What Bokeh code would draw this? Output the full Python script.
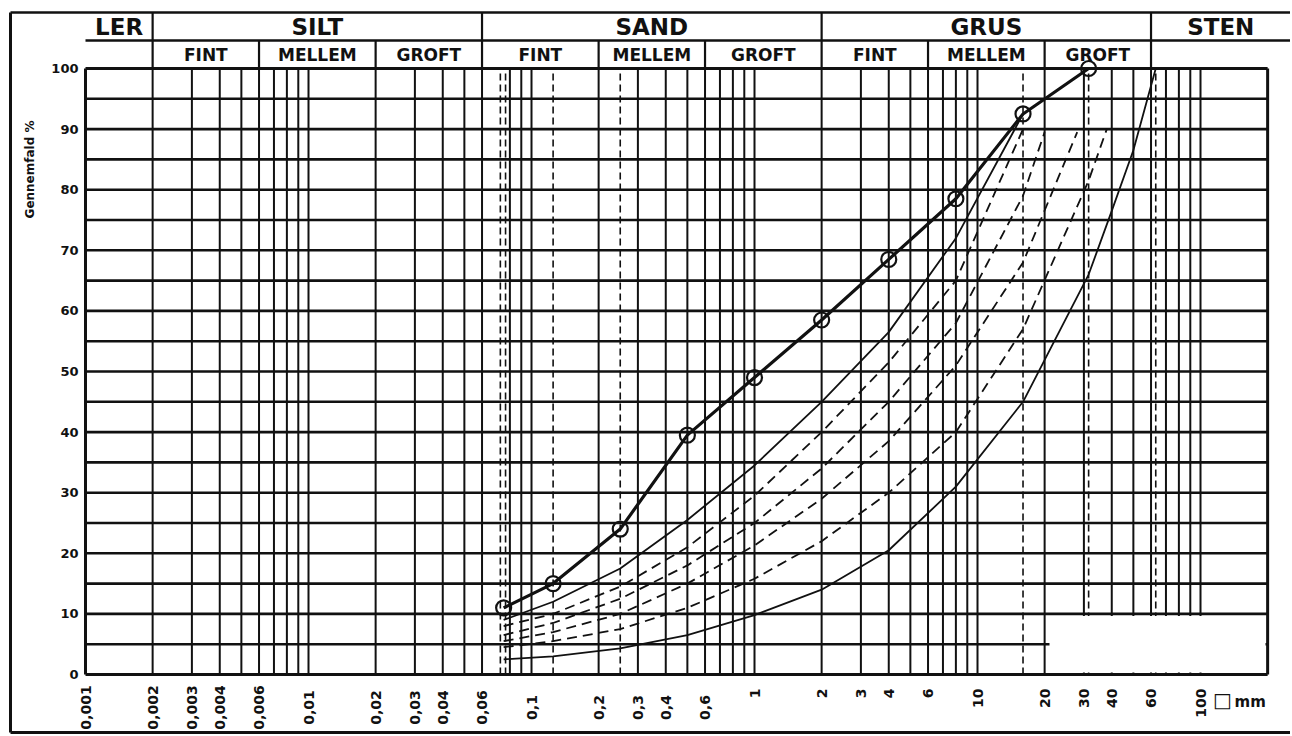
import math
from bokeh.plotting import figure
from bokeh.models import Range1d
from bokeh.embed import file_html
from bokeh.resources import INLINE
from bokeh.core.properties import value

# ---------------- data ----------------
# measured sample (thick curve with circles)
sample_mm = [0.075, 0.125, 0.25, 0.5, 1, 2, 4, 8, 16, 31.5]
sample_pct = [11, 15, 24, 39.5, 49, 58.5, 68.5, 78.5, 92.5, 100]

# upper thin solid envelope
upper_mm = [0.075, 0.125, 0.25, 0.5, 1, 2, 4, 8, 16]
upper_pct = [9, 12, 17.5, 25.5, 34.5, 45, 56.5, 72, 92.5]

# lower thin solid envelope
lower_mm = [0.075, 0.125, 0.25, 0.5, 1, 2, 4, 8, 16, 31.5, 40, 50, 63]
lower_pct = [2.5, 3, 4.3, 6.5, 9.8, 14, 20.5, 31, 45, 66, 76.5, 86.5, 100]

# dashed intermediate curves
dash1_mm = [0.075, 0.125, 0.25, 0.5, 1, 2, 4, 8, 16]
dash1_pct = [8, 10, 14.5, 21, 29.5, 40, 51.5, 65, 90]
dash2_mm = [0.075, 0.125, 0.25, 0.5, 1, 2, 4, 8, 16, 20]
dash2_pct = [6.5, 8.5, 12.5, 18, 25, 34, 45, 58, 79, 89.5]
dash3_mm = [0.075, 0.125, 0.25, 0.5, 1, 2, 4, 8, 16, 28]
dash3_pct = [5.5, 7, 10, 15, 21.3, 29, 38.5, 51, 68, 89.5]
dash4_mm = [0.075, 0.125, 0.25, 0.5, 1, 2, 4, 8, 16, 31.5, 38]
dash4_pct = [4.5, 5.5, 7.5, 11, 15.8, 22, 30, 40, 57, 81.5, 90]

# soil classes (Danish)
main_classes = ["LER", "SILT", "SAND", "GRUS", "STEN"]
main_bounds = [0.001, 0.002, 0.06, 2, 60]
sub_classes = ["FINT", "MELLEM", "GROFT"] * 3
sub_bounds = [0.002, 0.006, 0.02, 0.06, 0.2, 0.6, 2, 6, 20, 60]

# axis ticks
x_ticks = [0.001, 0.002, 0.003, 0.004, 0.006, 0.01, 0.02, 0.03, 0.04, 0.06,
           0.1, 0.2, 0.3, 0.4, 0.6, 1, 2, 3, 4, 6, 10, 20, 30, 40, 60, 100]
x_tick_labels = ["0,001", "0,002", "0,003", "0,004", "0,006", "0,01", "0,02", "0,03",
                 "0,04", "0,06", "0,1", "0,2", "0,3", "0,4", "0,6", "1", "2", "3",
                 "4", "6", "10", "20", "30", "40", "60", "100"]
y_ticks = [0, 10, 20, 30, 40, 50, 60, 70, 80, 90, 100]
y_tick_labels = [str(v) for v in y_ticks]

# sieve sizes drawn as dashed grid lines
sieve_lines = [0.125, 0.25, 16, 31.5, 63]
sieve_pair = [0.0725, 0.0765]
x_max = 200

# ---------------- layout helpers (page pixels -> data) ----------------
W, H, OFF = 1290, 734, 0
X0, DEC = 85.0, 223.0
Y0, PCT = 674.0, 6.06


def px_x(px):
    return 10 ** (-3 + (px - X0) / DEC)


def px_y(py):
    return (Y0 - py) / PCT


def gmean(a, b):
    return math.sqrt(a * b)


FONT = value("DejaVu Sans")

p = figure(width=W, height=H, x_axis_type="log",
           x_range=Range1d(px_x(OFF), px_x(OFF + W)),
           y_range=Range1d(px_y(OFF + H), px_y(OFF)),
           output_backend="svg", toolbar_location=None, min_border=0)
p.xaxis.visible = False
p.yaxis.visible = False
p.grid.visible = False
p.outline_line_color = None
p.background_fill_color = "white"
p.border_fill_color = "white"

INK = "#111111"

# ---- grid ----
hlines = list(range(5, 100, 5))
p.segment(x0=[0.001] * len(hlines), y0=hlines, x1=[x_max] * len(hlines), y1=hlines,
          line_color=INK, line_width=2.6)

grid_x = [m * 10 ** k for k in range(-3, 2) for m in range(1, 10)] + [100]
grid_x = [g for g in grid_x if abs(g - 0.07) > 1e-9 and g > 0.0011]
p.segment(x0=grid_x, y0=[0] * len(grid_x), x1=grid_x, y1=[100] * len(grid_x),
          line_color=INK, line_width=2)

sv = sieve_lines + sieve_pair
p.segment(x0=sv, y0=[0] * len(sv), x1=sv, y1=[100] * len(sv),
          line_color=INK, line_width=1.6, line_dash="7 4")

# blank patch at lower right of the grid
p.quad(left=[px_x(1049)], right=[px_x(1265)], bottom=[0.35], top=[9.65],
       fill_color="white", line_color=None)

# plot borders
p.segment(x0=[0.001, 0.001, 0.001, x_max], y0=[0, 100, 0, 0],
          x1=[x_max, x_max, 0.001, x_max], y1=[0, 100, 100, 100],
          line_color=INK, line_width=3)

# ---- header ----
right_edge = px_x(OFF + W)
row_top, row_mid = px_y(12), px_y(40)
p.segment(x0=[px_x(10), 0.001], y0=[row_top, row_mid], x1=[right_edge, right_edge],
          y1=[row_top, row_mid], line_color=INK, line_width=2.6)
mb = main_bounds[1:]
p.segment(x0=mb, y0=[100] * len(mb), x1=mb, y1=[row_top] * len(mb),
          line_color=INK, line_width=2.2)
sb = [b for b in sub_bounds if b not in main_bounds]
p.segment(x0=sb, y0=[100] * len(sb), x1=sb, y1=[row_mid] * len(sb),
          line_color=INK, line_width=2.2)

main_edges = main_bounds + [px_x(1290)]
main_cx = [gmean(main_edges[i], main_edges[i + 1]) for i in range(len(main_classes))]
p.text(x=main_cx, y=[px_y(26)] * len(main_cx), text=main_classes,
       text_font=FONT, text_font_style="bold", text_font_size="23px",
       text_align="center", text_baseline="middle", text_color=INK)
sub_cx = [gmean(sub_bounds[i], sub_bounds[i + 1]) for i in range(len(sub_classes))]
p.text(x=sub_cx, y=[px_y(54)] * len(sub_cx), text=sub_classes,
       text_font=FONT, text_font_style="bold", text_font_size="17px",
       text_align="center", text_baseline="middle", text_color=INK)

# outer frame (left and bottom)
p.segment(x0=[px_x(10), px_x(10)], y0=[row_top, px_y(732)],
          x1=[px_x(10), right_edge], y1=[px_y(732), px_y(732)],
          line_color=INK, line_width=3)

# ---- curves ----
for mm, pct in [(dash1_mm, dash1_pct), (dash2_mm, dash2_pct),
                (dash3_mm, dash3_pct), (dash4_mm, dash4_pct)]:
    p.line(mm, pct, line_color=INK, line_width=1.8, line_dash="10 6")
p.line(upper_mm, upper_pct, line_color=INK, line_width=1.8)
p.line(lower_mm, lower_pct, line_color=INK, line_width=1.8)
p.line(sample_mm, sample_pct, line_color=INK, line_width=3.2)
p.scatter(sample_mm, sample_pct, marker="circle", size=15, fill_color=None,
          line_color=INK, line_width=2.2)

# ---- tick labels ----
p.text(x=[0.001] * len(y_ticks), y=y_ticks, text=y_tick_labels, x_offset=-7,
       text_font=FONT, text_font_style="bold", text_font_size="13px",
       text_align="right", text_baseline="middle", text_color=INK)

dec_x = [x for x in x_ticks if x < 1]
dec_t = [t for x, t in zip(x_ticks, x_tick_labels) if x < 1]
int_x = [x for x in x_ticks if x >= 1]
int_t = [t for x, t in zip(x_ticks, x_tick_labels) if x >= 1]
p.text(x=dec_x, y=[px_y(707)] * len(dec_x), text=dec_t, angle=math.pi / 2,
       text_font=FONT, text_font_style="bold", text_font_size="14px",
       text_align="center", text_baseline="middle", text_color=INK)
p.text(x=int_x, y=[px_y(688)] * len(int_x), text=int_t, angle=math.pi / 2,
       text_font=FONT, text_font_style="bold", text_font_size="14px",
       text_align="right", text_baseline="middle", text_color=INK)

p.text(x=[px_x(1222)], y=[px_y(699)], text=["□"],
       text_font=FONT, text_font_size="20px",
       text_align="center", text_baseline="middle", text_color=INK)
p.text(x=[px_x(1234)], y=[px_y(701)], text=["mm"],
       text_font=FONT, text_font_style="bold", text_font_size="15px",
       text_align="left", text_baseline="middle", text_color=INK)

# y title
p.text(x=[px_x(29)], y=[px_y(169)], text=["Gennemfald %"], angle=math.pi / 2,
       text_font=FONT, text_font_style="bold", text_font_size="12px",
       text_align="center", text_baseline="middle", text_color=INK)

open("out.html", "w").write(file_html(p, INLINE))
